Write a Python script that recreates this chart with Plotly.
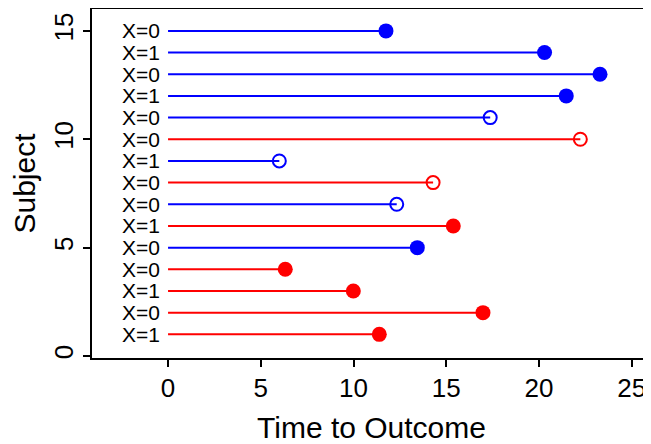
import plotly.graph_objects as go

# ---- data (bottom to top) ----
subjects = list(range(1, 16))
times = [11.39, 16.98, 9.99, 6.32, 13.44, 15.38, 12.33, 14.29, 6.0, 22.23, 17.37, 21.47, 23.29, 20.3, 11.75]
x_value = [1, 0, 1, 0, 0, 1, 0, 0, 1, 0, 0, 1, 0, 1, 0]
group = ["B", "B", "B", "B", "A", "B", "A", "B", "A", "B", "A", "A", "A", "A", "A"]
event = [1, 1, 1, 1, 1, 1, 0, 0, 0, 0, 0, 1, 1, 1, 1]
x_ticks = [0, 5, 10, 15, 20, 25]
y_ticks = [0, 5, 10, 15]

COLORS = {"A": "#0000FF", "B": "#FF0000"}
FONT = "Liberation Sans, Arial, sans-serif"

fig = go.Figure()

# segments per group
for g, col in COLORS.items():
    xs, ys = [], []
    for s, t, gg in zip(subjects, times, group):
        if gg == g:
            xs += [0, t, None]
            ys += [s, s, None]
    fig.add_trace(go.Scatter(x=xs, y=ys, mode="lines",
                             line=dict(color=col, width=2),
                             showlegend=False, hoverinfo="skip"))

# markers per group and event status
for g, col in COLORS.items():
    for ev in (1, 0):
        xs = [t for t, gg, e in zip(times, group, event) if gg == g and e == ev]
        ys = [s for s, gg, e in zip(subjects, group, event) if gg == g and e == ev]
        if not xs:
            continue
        if ev == 1:
            marker = dict(symbol="circle", size=15, color=col, line=dict(width=0))
        else:
            marker = dict(symbol="circle-open", size=13, color=col, line=dict(width=2, color=col))
        fig.add_trace(go.Scatter(x=xs, y=ys, mode="markers", marker=marker,
                                 showlegend=False))

# "X=.." labels
for s, xv in zip(subjects, x_value):
    fig.add_annotation(x=0, y=s, text=f"X={xv}", showarrow=False,
                       xanchor="right", yanchor="middle", xshift=-6,
                       font=dict(family=FONT, size=21, color="black"))

# page body has an 8px default margin, so the figure is 8px smaller
fig.update_layout(
    width=643, height=436,
    margin=dict(l=84, r=0, t=1, b=86),
    plot_bgcolor="white", paper_bgcolor="white",
    font=dict(family=FONT, color="black"),
    xaxis=dict(range=[-4.1, 26.04], tickvals=x_ticks, ticks="outside", ticklen=7,
               tickwidth=1.5, tickcolor="black", showline=True, linecolor="black",
               linewidth=1.5, mirror=True, showgrid=False, zeroline=False,
               automargin=False,
               tickfont=dict(size=26, family=FONT), ticklabelstandoff=-1,
               title=dict(text="Time to Outcome", font=dict(size=30, family=FONT), standoff=17)),
    yaxis=dict(range=[-0.092, 16.01], tickvals=y_ticks, ticks="outside", ticklen=7,
               tickwidth=1.5, tickcolor="black", showline=True, linecolor="black",
               linewidth=1.5, mirror=False, showgrid=False, zeroline=False,
               automargin=False,
               tickangle=-90, tickfont=dict(size=26, family=FONT), ticklabelstandoff=0,
               title=dict(text="Subject", font=dict(size=30, family=FONT), standoff=14)),
)

fig.write_html("out.html")
